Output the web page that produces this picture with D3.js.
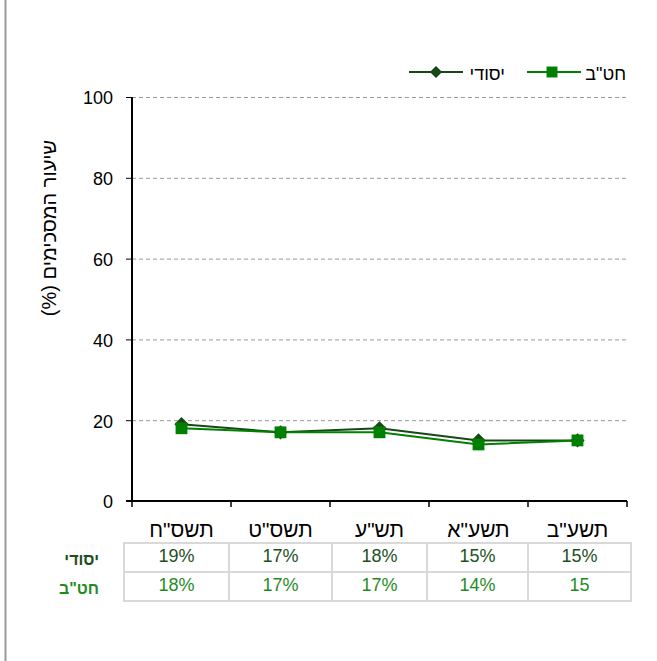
<!DOCTYPE html>
<html><head><meta charset="utf-8">
<script src="https://cdn.jsdelivr.net/npm/d3@7"></script>
<style>body{margin:0;background:#fff}svg{display:block;font-family:"Liberation Sans",Arial,sans-serif}</style>
</head><body><svg id="c" width="657" height="661"></svg>
<script>
const categories = ['תשס"ח','תשס"ט','תש"ע','תשע"א','תשע"ב'];
const yesodi = [19,17,18,15,15];
const hativa = [18,17,17,14,15];
const yesodiLabels = ['19%','17%','18%','15%','15%'];
const hativaLabels = ['18%','17%','17%','14%','15'];
const yTicks = [0,20,40,60,80,100];
const seriesNames = ['יסודי','חט"ב'];
const yTitle = 'שיעור המסכימים (%)';

const colYes = '#164816', colHat = '#008000';
const txtYes = '#1d4f1d', txtHat = '#1f8c1f';
const FF = '"Liberation Sans",Arial,sans-serif';
const svg = d3.select('#c');

// page frame line
svg.append('line').attr('x1',5.5).attr('x2',5.5).attr('y1',0).attr('y2',661).attr('stroke','#999').attr('stroke-width',2);

const x = d3.scaleBand().domain(categories).range([132,627]).padding(0);
const y = d3.scaleLinear().domain([0,100]).range([501,97]);

// grid
svg.append('g').selectAll('line').data(yTicks.filter(d=>d>0)).join('line')
 .attr('x1',132).attr('x2',627).attr('y1',d=>y(d)+0.5).attr('y2',d=>y(d)+0.5)
 .attr('stroke','#999').attr('stroke-dasharray','4,3').attr('stroke-width',1);

// y axis
const ya = svg.append('g').attr('transform','translate(132,0)')
 .call(d3.axisLeft(y).tickValues(yTicks).tickSize(6).tickPadding(13));
ya.select('.domain').attr('stroke','#000').attr('stroke-width',2).attr('d','M0,97V501');
ya.selectAll('.tick line').attr('stroke','#000');
ya.selectAll('.tick text').attr('font-size',18).attr('dy','0.38em').attr('fill','#000').attr('font-family',FF);

// x axis
svg.append('line').attr('x1',126).attr('x2',627).attr('y1',501).attr('y2',501).attr('stroke','#000').attr('stroke-width',2);
const bounds = categories.map(c=>x(c)).concat([x.range()[1]]);
svg.append('g').selectAll('line').data(bounds).join('line')
 .attr('x1',d=>d).attr('x2',d=>d).attr('y1',501).attr('y2',507).attr('stroke','#000').attr('stroke-width',1.5);
svg.append('g').selectAll('text').data(categories).join('text')
 .attr('x',d=>x(d)+x.bandwidth()/2).attr('y',537).attr('text-anchor','middle')
 .attr('font-size',21).attr('fill','#000').text(d=>d);

// y title
svg.append('text').attr('transform','translate(56,228) rotate(-90)')
 .attr('text-anchor','middle').attr('direction','rtl').attr('font-size',20).attr('fill','#000').text(yTitle);

// lines
const cx = d=>x(d)+x.bandwidth()/2;
const line = d3.line().x((d,i)=>cx(categories[i])).y(d=>y(d));
svg.append('path').datum(yesodi).attr('d',line).attr('fill','none').attr('stroke',colYes).attr('stroke-width',2);
svg.append('path').datum(hativa).attr('d',line).attr('fill','none').attr('stroke',colHat).attr('stroke-width',2);
const diamond = d3.symbol().type(d3.symbolDiamond2).size(130);
const square = d3.symbol().type(d3.symbolSquare).size(140);
svg.append('g').selectAll('path').data(yesodi).join('path')
 .attr('transform',(d,i)=>`translate(${cx(categories[i])},${y(d)})`).attr('d',diamond).attr('fill',colYes);
svg.append('g').selectAll('path').data(hativa).join('path')
 .attr('transform',(d,i)=>`translate(${cx(categories[i])},${y(d)})`).attr('d',square).attr('fill',colHat);

// legend
const lg = svg.append('g');
const ly = 72;
lg.append('line').attr('x1',409).attr('x2',463).attr('y1',ly).attr('y2',ly).attr('stroke',colYes).attr('stroke-width',2);
lg.append('path').attr('transform',`translate(436,${ly})`).attr('d',d3.symbol().type(d3.symbolDiamond2).size(95)).attr('fill',colYes);
lg.append('text').attr('x',505).attr('y',80).attr('text-anchor','end').attr('font-size',18).attr('fill','#000').text(seriesNames[0]);
lg.append('line').attr('x1',527).attr('x2',581).attr('y1',ly).attr('y2',ly).attr('stroke',colHat).attr('stroke-width',2);
lg.append('path').attr('transform',`translate(552,${ly})`).attr('d',d3.symbol().type(d3.symbolSquare).size(120)).attr('fill',colHat);
lg.append('text').attr('x',626).attr('y',80).attr('text-anchor','end').attr('font-size',18).attr('fill','#000').text(seriesNames[1]);

// table
const colB = [124,229,332,427,528,631];
const rowB = [543,572,601];
const tg = svg.append('g');
colB.forEach(cb=>tg.append('line').attr('x1',cb).attr('x2',cb).attr('y1',rowB[0]).attr('y2',rowB[2]).attr('stroke','#d9d9d9').attr('stroke-width',2));
rowB.forEach(rb=>tg.append('line').attr('x1',colB[0]-1).attr('x2',colB[5]+1).attr('y1',rb).attr('y2',rb).attr('stroke','#d9d9d9').attr('stroke-width',2));
const rows = [{lab:seriesNames[0],vals:yesodiLabels,c:txtYes},{lab:seriesNames[1],vals:hativaLabels,c:txtHat}];
rows.forEach((r,ri)=>{
  const yy = rowB[ri] + 19;
  tg.append('text').attr('x',99).attr('y',yy+2.5).attr('text-anchor','end').attr('font-size',16).attr('font-weight','bold').attr('fill',r.c).text(r.lab);
  r.vals.forEach((v,i)=>tg.append('text').attr('x',(colB[i]+colB[i+1])/2).attr('y',yy).attr('text-anchor','middle').attr('font-size',18).attr('fill',r.c).text(v));
});
</script></body></html>
